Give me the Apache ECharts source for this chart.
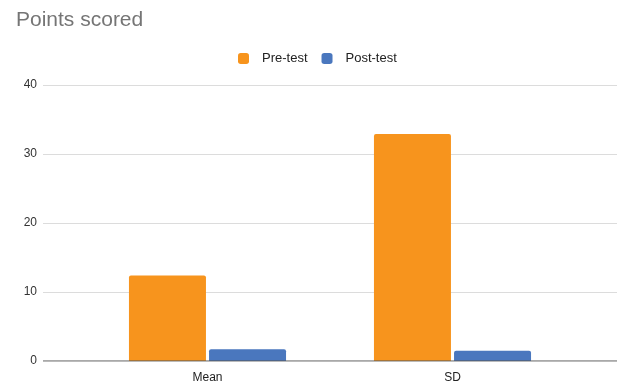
<!DOCTYPE html>
<html><head><meta charset="utf-8">
<script src="https://cdn.jsdelivr.net/npm/echarts@6/dist/echarts.min.js"></script>
<style>html,body{margin:0;padding:0;background:#fff}#c{width:617px;height:385px}</style>
</head><body><div id="c"></div>
<script>
const categories = ['Mean', 'SD'];
const preTest = [12.4, 32.9];
const postTest = [1.7, 1.5];
const yTicks = [0, 10, 20, 30, 40];

const chart = echarts.init(document.getElementById('c'), null, {renderer: 'canvas'});
const font = 'Liberation Sans, Arial, sans-serif';
chart.setOption({
  animation: false,
  backgroundColor: '#fff',
  title: {
    text: 'Points scored', left: 11, top: 5,
    textStyle: {fontFamily: font, fontSize: 21, fontWeight: 'normal', color: '#757575'}
  },
  legend: {
    top: 47, left: 233, itemWidth: 11, itemHeight: 11, itemGap: 14,
    icon: 'roundRect',
    textStyle: {fontFamily: font, fontSize: 13, color: '#222', padding: [0, 0, 0, 8]},
    data: ['Pre-test', 'Post-test']
  },
  grid: [
    {left: 43, right: 0, top: 85, bottom: 24},
    {left: 85, right: 42, top: 85, bottom: 24}
  ],
  xAxis: [
    {gridIndex: 0, type: 'value', min: 0, max: 1, show: true,
     axisLine: {show: false}, axisTick: {show: false}, axisLabel: {show: false}, splitLine: {show: false}},
    {gridIndex: 1, type: 'category', data: categories,
     axisLine: {show: false}, axisTick: {show: false},
     axisLabel: {fontFamily: font, fontSize: 12, color: '#222', margin: 11}}
  ],
  yAxis: [
    {gridIndex: 0, type: 'value', min: yTicks[0], max: yTicks[yTicks.length - 1], interval: 10,
     axisLine: {show: false}, axisTick: {show: false},
     axisLabel: {fontFamily: font, fontSize: 12, color: '#333', margin: 6},
     splitLine: {lineStyle: {color: '#dcdcdc', width: 1}}},
    {gridIndex: 1, type: 'value', min: 0, max: 40, show: false}
  ],
  series: [
    {name: 'Pre-test', type: 'bar', xAxisIndex: 1, yAxisIndex: 1, data: preTest,
     barWidth: 77, barGap: '4%', itemStyle: {color: '#f7941d', borderRadius: [2, 2, 0, 0]}},
    {name: 'Post-test', type: 'bar', xAxisIndex: 1, yAxisIndex: 1, data: postTest,
     barWidth: 77, barGap: '4%', itemStyle: {color: '#4a77be', borderRadius: [2, 2, 0, 0]}},
    {type: 'line', xAxisIndex: 0, yAxisIndex: 0, data: [[0, 0], [1, 0]], symbol: 'none',
     silent: true, lineStyle: {color: '#555', width: 1.2}, z: 5, legendHoverLink: false}
  ]
});
</script></body></html>
